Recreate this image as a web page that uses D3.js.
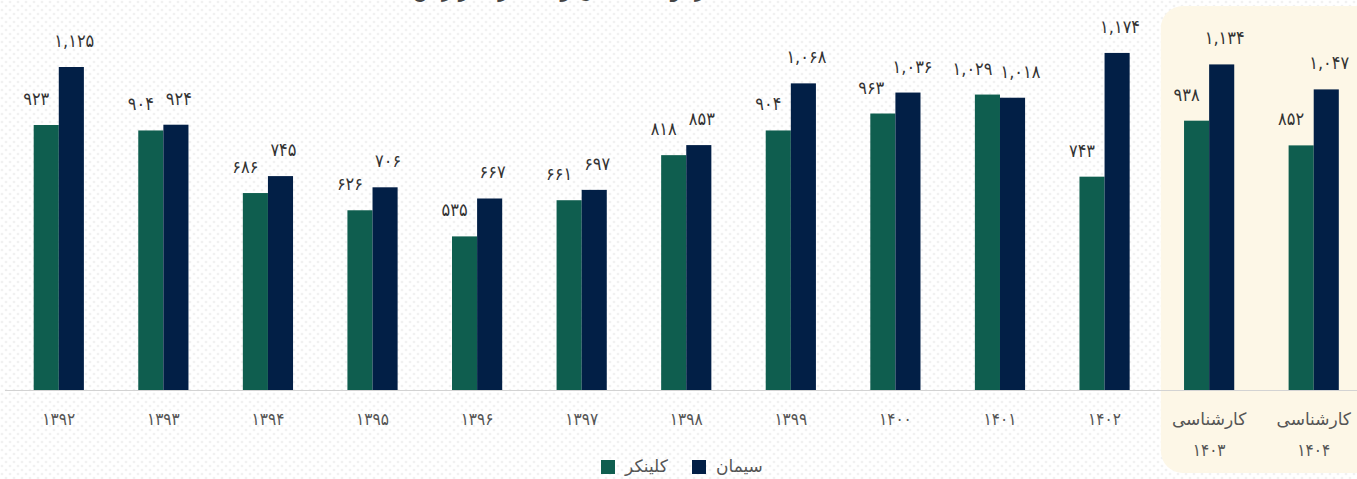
<!DOCTYPE html>
<html>
<head>
<meta charset="utf-8">
<script src="https://cdn.jsdelivr.net/npm/d3@7"></script>
<style>
  body { margin: 0; background: #fff; overflow: hidden; }
  text { font-family: "DejaVu Sans", "Noto Sans", sans-serif; }
  text.num { font-family: "DejaVu Sans Condensed", "DejaVu Sans", sans-serif; }
</style>
</head>
<body>
<div id="chart"></div>
<script>
// data
var years = ["1392", "1393", "1394", "1395", "1396", "1397", "1398", "1399", "1400", "1401", "1402", "1403", "1404"];
var estimated = [false, false, false, false, false, false, false, false, false, false, false, true, true];
var clinker = [923, 904, 686, 626, 535, 661, 818, 904, 963, 1029, 743, 938, 852];
var cement = [1125, 924, 745, 706, 667, 697, 853, 1068, 1036, 1018, 1174, 1134, 1047];
var seriesNames = ["کلینکر", "سیمان"];
var estLabel = "کارشناسی";
var title = "مقدار تولید سیمان و کلینکر (هزار تن)";

var svgWidth = 1357;
var svgHeight = 479;
var colors = ["#0f5e4f", "#021f46"];

// persian digits
function fa(s) {
  return String(s).replace(/[0-9]/g, function(c) { return "۰۱۲۳۴۵۶۷۸۹"[+c]; });
}

var data = years.map(function(y, i) {
  return { year: y, est: estimated[i], vals: [clinker[i], cement[i]] };
});

var svg = d3.select("#chart")
  .append("svg")
  .attr("width", svgWidth)
  .attr("height", svgHeight);

// dotted background
var pat = svg.append("defs").append("pattern")
  .attr("id", "dots")
  .attr("width", 8).attr("height", 8)
  .attr("patternUnits", "userSpaceOnUse");
pat.append("rect").attr("width", 8).attr("height", 8).attr("fill", "#ffffff");
pat.append("circle").attr("cx", 2).attr("cy", 2).attr("r", 1.3).attr("fill", "#f1f1f1");
pat.append("circle").attr("cx", 6).attr("cy", 6).attr("r", 1.3).attr("fill", "#f1f1f1");
svg.append("rect").attr("width", svgWidth).attr("height", svgHeight).attr("fill", "url(#dots)");

var x = d3.scaleBand()
  .domain(years)
  .range([6.5, 1366])
  .paddingInner(0.52)
  .paddingOuter(0.26);

var xs = d3.scaleBand()
  .domain([0, 1])
  .range([0, x.bandwidth()]);

var y = d3.scaleLinear()
  .domain([0, 1125])
  .range([390, 67]);

// highlight box for the estimated years
var estYears = years.filter(function(d, i) { return estimated[i]; });
var hx0 = x(estYears[0]) - (x.step() - x.bandwidth()) / 2 + 4;
svg.append("rect")
  .attr("x", hx0)
  .attr("y", 6)
  .attr("width", svgWidth - hx0 + 30)
  .attr("height", 467)
  .attr("rx", 22)
  .attr("fill", "#fdf7e7");

// title (cut off at the top in the original)
svg.append("text")
  .attr("x", 575)
  .attr("y", -3)
  .attr("text-anchor", "middle")
  .attr("direction", "rtl")
  .attr("font-size", 22)
  .attr("fill", "#444")
  .text(title);

// axis line
svg.append("line")
  .attr("x1", 5).attr("x2", svgWidth)
  .attr("y1", 390.5).attr("y2", 390.5)
  .attr("stroke", "#d3d3d3")
  .attr("stroke-width", 1.2);

var groups = svg.selectAll("g.cat")
  .data(data)
  .enter()
  .append("g")
  .attr("class", "cat")
  .attr("transform", function(d) { return "translate(" + x(d.year) + ",0)"; });

groups.selectAll("rect")
  .data(function(d) { return d.vals; })
  .enter()
  .append("rect")
  .attr("x", function(d, i) { return xs(i); })
  .attr("y", function(d) { return y(d); })
  .attr("width", xs.bandwidth())
  .attr("height", function(d) { return y(0) - y(d); })
  .attr("fill", function(d, i) { return colors[i]; });

// value labels
groups.selectAll("text.val")
  .data(function(d) { return d.vals; })
  .enter()
  .append("text")
  .attr("class", "val num")
  .attr("x", function(d, i) { return xs(i) + xs.bandwidth() / 2 + (i === 0 ? -10 : 3); })
  .attr("y", function(d) { return y(d) - 20; })
  .attr("text-anchor", "middle")
  .attr("font-size", 18)
  .attr("fill", "#333")
  .text(function(d) { return fa(d3.format(",")(d)); });

// push apart labels that collide within a group
groups.each(function() {
  var t = d3.select(this).selectAll("text.val").nodes();
  var a = t[0].getBBox(), b = t[1].getBBox();
  var vOver = Math.min(a.y + a.height, b.y + b.height) - Math.max(a.y, b.y);
  var hOver = a.x + a.width + 8 - b.x;
  if (vOver > 0 && hOver > 0) {
    t[0].setAttribute("x", +t[0].getAttribute("x") - hOver / 2);
    t[1].setAttribute("x", +t[1].getAttribute("x") + hOver / 2);
  }
});

// category labels
groups.each(function(d) {
  var g = d3.select(this);
  var cx = x.bandwidth() / 2;
  if (d.est) {
    g.append("text")
      .attr("x", cx).attr("y", 425)
      .attr("text-anchor", "middle")
      .attr("direction", "rtl")
      .attr("font-size", 17)
      .attr("fill", "#555")
      .text(estLabel);
    g.append("text")
      .attr("class", "num")
      .attr("x", cx).attr("y", 456)
      .attr("text-anchor", "middle")
      .attr("font-size", 17)
      .attr("fill", "#555")
      .text(fa(d.year));
  } else {
    g.append("text")
      .attr("class", "num")
      .attr("x", cx).attr("y", 425)
      .attr("text-anchor", "middle")
      .attr("font-size", 17)
      .attr("fill", "#555")
      .text(fa(d.year));
  }
});

// legend
var legendX = [601, 692];
var legend = svg.selectAll("g.legend")
  .data(seriesNames)
  .enter()
  .append("g")
  .attr("class", "legend")
  .attr("transform", function(d, i) { return "translate(" + legendX[i] + ",460)"; });

legend.append("rect")
  .attr("width", 14).attr("height", 14)
  .attr("fill", function(d, i) { return colors[i]; });

legend.append("text")
  .attr("x", 24)
  .attr("y", 12)
  .attr("font-size", 17)
  .attr("fill", "#555")
  .text(function(d) { return d; });
</script>
</body>
</html>
